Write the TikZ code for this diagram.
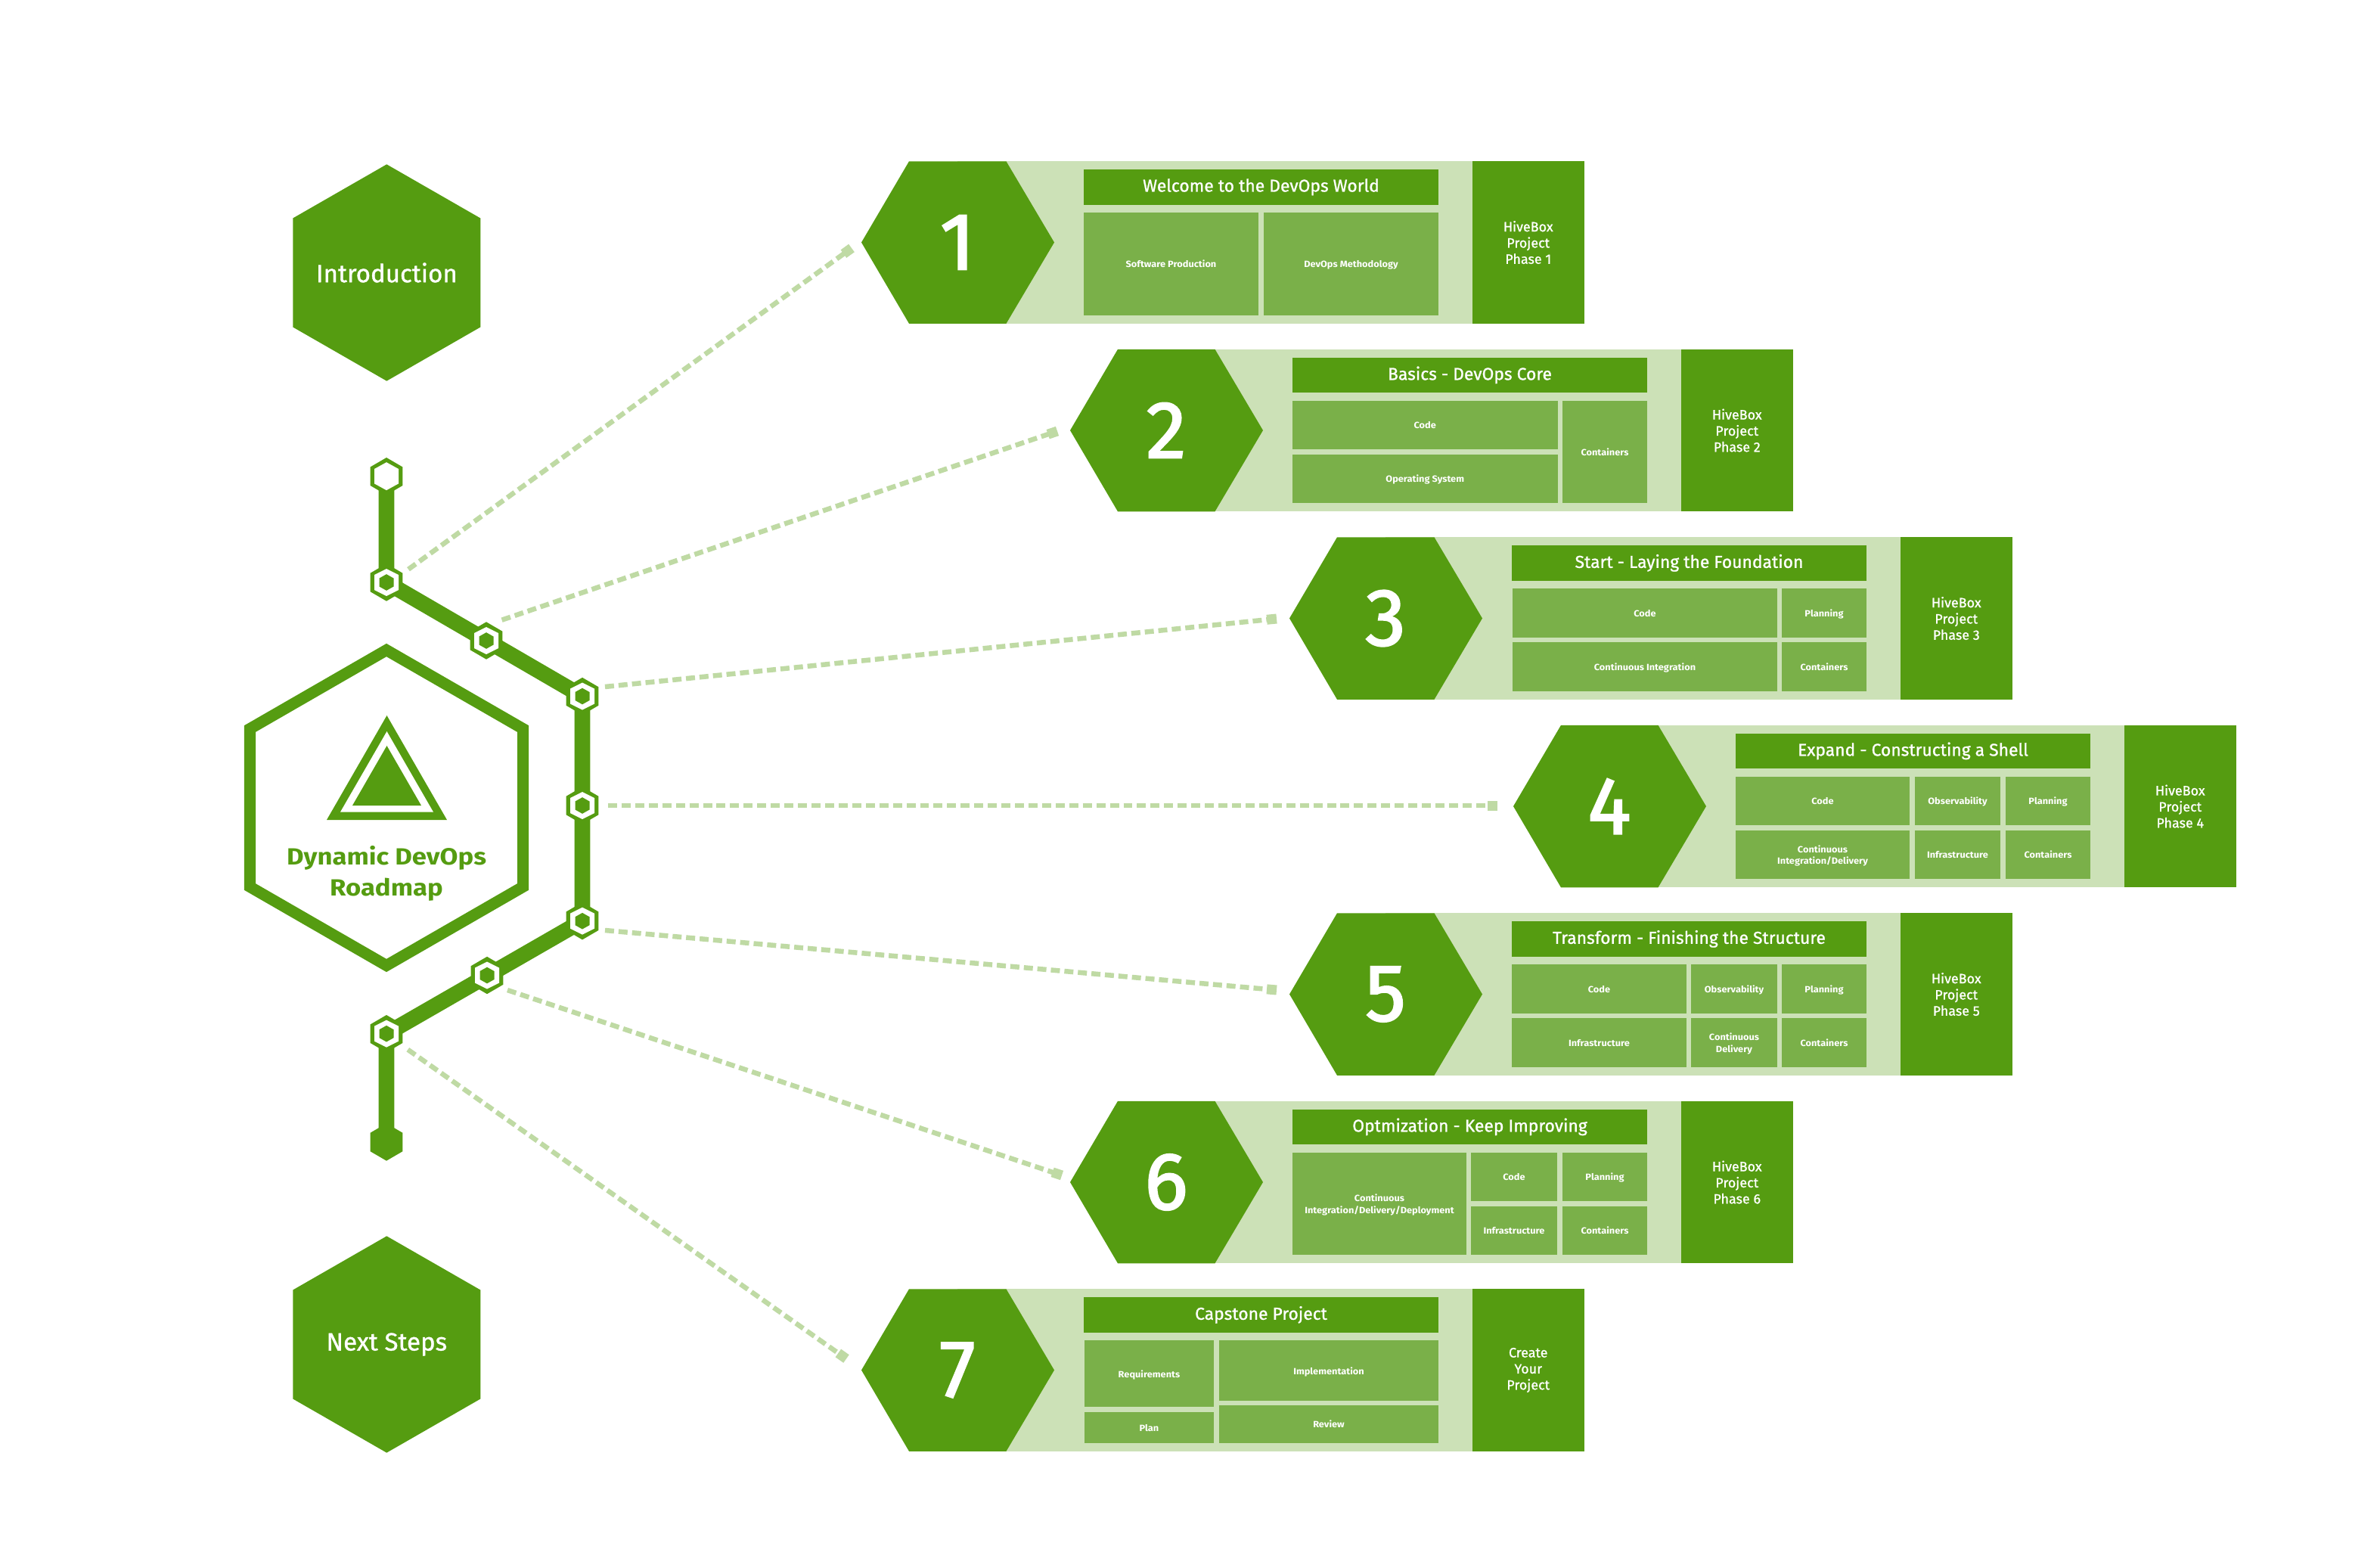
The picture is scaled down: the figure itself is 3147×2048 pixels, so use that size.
\documentclass[tikz,border=0pt]{standalone}
\usepackage{fontspec}
\setmainfont{Fira Sans}
\newfontfamily\mediumface{Fira Sans}[FakeBold=1]
\newfontfamily\numface{Fira Sans}[FakeBold=2]
\newfontfamily\cellface{Fira Sans}[FakeStretch=1.07]
\newfontfamily\wideface{Fira Sans}[FakeStretch=1.12]
\usetikzlibrary{arrows.meta,calc}
\definecolor{roadgreen}{HTML}{559C11}
\definecolor{cellgreen}{HTML}{7AB049}
\definecolor{bandgreen}{HTML}{CCE1B7}
\definecolor{linkgreen}{HTML}{BFDAA4}
% centre, half width, half height, corner offset
\newcommand{\hexat}[4]{(#1)+(0,-#3) -- +(#2,-#4) -- +(#2,#4) -- +(0,#3) -- +(-#2,#4) -- +(-#2,-#4) -- cycle}
\tikzset{
  roadline/.style={roadgreen,line width=0.207cm,line join=miter},
  linkline/.style={linkgreen,line width=0.065cm,dash pattern=on 3.4pt off 1.7pt,-{Square[length=3.7pt,width=3.7pt]}},
  numtext/.style={text=white,font=\numface\fontsize{30.5}{30.5}\selectfont},
  headtext/.style={text=white,font=\mediumface\fontsize{6.5}{7.5}\selectfont},
  projtext/.style={text=white,align=center,font=\mediumface\fontsize{5.1}{6.07}\selectfont},
  celltext/.style={text=white,align=center,yshift=-0.4pt,font=\cellface\bfseries\fontsize{3.4}{4.3}\selectfont,execute at begin node={\vphantom{Ayg}}},
  bigtext/.style={text=white,font=\mediumface\fontsize{9.4}{11}\selectfont}
}

\begin{document}
\begin{tikzpicture}[x=0.01cm,y=-0.01cm]
  \useasboundingbox (0,0) rectangle (3147,2048);

  % side hexagons
  \coordinate (introc) at (511.3,360.5);
  \coordinate (nextc) at (511.3,1777.5);
  \fill[roadgreen] \hexat{introc}{124}{143.2}{72};
  \fill[roadgreen] \hexat{nextc}{124}{143.2}{72};
  \node[bigtext] (intro) at (introc) {Introduction};
  \node[bigtext] (next) at (nextc) {Next Steps};

  % centre hexagon
  \coordinate (mainc) at (511,1068);
  \draw[roadgreen,line width=0.15cm,line join=miter] \hexat{mainc}{180.5}{208.5}{104.5};
  \fill[roadgreen] (511.5,946) -- (591,1084) -- (432,1084) -- cycle;
  \fill[white] (511.5,967) -- (573,1073.6) -- (450,1073.6) -- cycle;
  \fill[roadgreen] (511.5,986) -- (557,1065) -- (466,1065) -- cycle;
  \node[text=roadgreen,align=center,font=\wideface\bfseries\fontsize{8.8}{11.75}\selectfont] (mainlabel) at (511,1155) {Dynamic DevOps\\Roadmap};

  % road
  \coordinate (hubtop) at (511,629.7);
  \coordinate (hubend) at (511,1510);
  \foreach \n/\hx/\hy in {1/511/770,2/643/847,3/770/920.5,4/770/1065,5/770/1217.7,6/644/1289.5,7/511/1366.7}{
    \coordinate (hub\n) at (\hx,\hy);
  }
  \draw[roadline] (hubtop) -- (hub1) -- (hub3) -- (hub5) -- (hub7) -- (hubend);
  \fill[roadgreen] \hexat{hubtop}{21.3}{24.7}{12.3};
  \fill[white] \hexat{hubtop}{16}{18.5}{9.7};
  \fill[roadgreen] \hexat{hubend}{21.3}{24.7}{12.3};
  \foreach \n in {1,...,7}{
    \fill[roadgreen] \hexat{hub\n}{21.3}{24.7}{12.3};
    \fill[white] \hexat{hub\n}{16}{18}{10};
    \fill[roadgreen] \hexat{hub\n}{9.5}{10.8}{5.5};
  }

  % panels
  \foreach \n/\px/\heading/\project in {
    1/1139/{Welcome to the DevOps World}/{HiveBox\\Project\\Phase 1},
    2/1415/{Basics - DevOps Core}/{HiveBox\\Project\\Phase 2},
    3/1705/{Start - Laying the Foundation}/{HiveBox\\Project\\Phase 3},
    4/2001/{Expand - Constructing a Shell}/{HiveBox\\Project\\Phase 4},
    5/1705/{Transform - Finishing the Structure}/{HiveBox\\Project\\Phase 5},
    6/1415/{Optmization - Keep Improving}/{HiveBox\\Project\\Phase 6},
    7/1139/{Capstone Project}/{Create\\Your\\Project}}{
    \pgfmathsetmacro{\py}{213.3+248.5*(\n-1)}
    \coordinate (panel\n) at (\px,\py);
    \begin{scope}[shift={(\px,\py)}]
      \fill[bandgreen] (127,0) rectangle (808,214.5);
      \fill[roadgreen] (0,107.2) -- (63,0) -- (191.5,0) -- (255,107.2) -- (191.5,214.5) -- (63,214.5) -- cycle;
      \node[numtext] (num\n) at (127,107.2) {\n};
      \fill[roadgreen] (294,10.7) rectangle (763,57.4) node[midway,headtext] (head\n) {\heading};
      \fill[roadgreen] (808,0) rectangle (955.5,214.5) node[midway,projtext] (proj\n) {\project};
    \end{scope}
  }

  % cells
  \foreach \n/\xa/\xb/\ya/\yb/\txt [count=\c] in {
    1/294/525/68/203.5/{Software Production},
    1/532/763/68/203.5/{DevOps Methodology},
    2/294/644.5/68/132.5/{Code},
    2/294/644.5/139/203.5/{Operating System},
    2/651/763/68/203.5/{Containers},
    3/295/645/68/132.5/{Code},
    3/651/763/68/132.5/{Planning},
    3/295/645/139/203.5/{Continuous Integration},
    3/651/763/139/203.5/{Containers},
    4/294/524/68/132.5/{Code},
    4/531/644/68/132.5/{Observability},
    4/651/763/68/132.5/{Planning},
    4/294/524/139/203.5/{Continuous\\Integration/Delivery},
    4/531/644/139/203.5/{Infrastructure},
    4/651/763/139/203.5/{Containers},
    5/294/525/68/132.5/{Code},
    5/531/645/68/132.5/{Observability},
    5/651/763/68/132.5/{Planning},
    5/294/525/139/203.5/{Infrastructure},
    5/531/645/139/203.5/{Continuous\\Delivery},
    5/651/763/139/203.5/{Containers},
    6/294/524/68/203.5/{Continuous\\Integration/Delivery/Deployment},
    6/530/644/68/132.5/{Code},
    6/651/763/68/132.5/{Planning},
    6/530/644/139/203.5/{Infrastructure},
    6/651/763/139/203.5/{Containers},
    7/295/466/68/156/{Requirements},
    7/295/466/162.7/203.5/{Plan},
    7/473/763/68/147.7/{Implementation},
    7/473/763/154/203.5/{Review}}{
    \fill[cellgreen,shift={(panel\n)}] (\xa,\ya) rectangle (\xb,\yb) node[midway,celltext] (cell\c) {\txt};
  }

  % links
  \foreach \n/\sx/\sy/\ex/\ey in {
    1/540/752.7/1126/328,
    2/663.6/819.7/1398/570,
    3/800/908/1688/818,
    4/804/1065/1980/1065,
    5/800/1230/1688/1309,
    6/671/1309/1404/1554,
    7/539.3/1387.7/1119/1796.5}{
    \coordinate (from\n) at (\sx,\sy);
    \coordinate (to\n) at (\ex,\ey);
    \draw[linkline] (from\n) -- (to\n);
  }
\end{tikzpicture}
\end{document}
